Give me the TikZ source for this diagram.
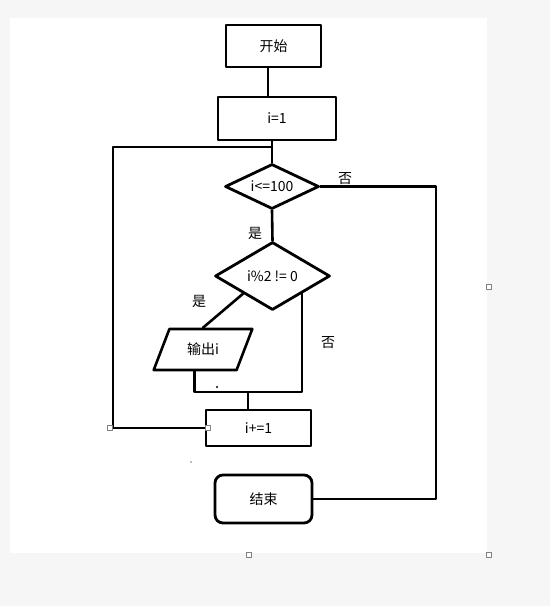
\documentclass[tikz,border=0pt]{standalone}
\usepackage{fontspec}
\setmainfont{Noto Sans CJK SC}
\usepackage{tikz}
\usetikzlibrary{calc}
\usetikzlibrary{shapes.geometric}
\definecolor{fafafa}{rgb}{0.965,0.965,0.965}
\definecolor{aaaaaa}{rgb}{0.5,0.5,0.5}
\tikzset{
  every node/.style={font=\fontsize{14}{16}\selectfont},
  procbox/.style={draw,line width=2.8pt,rectangle,inner sep=0pt},
  testbox/.style={draw,line width=2.8pt,diamond,aspect=2,inner sep=0pt},
  iobox/.style={draw,line width=2.6pt,trapezium,trapezium left angle=60,trapezium right angle=120,trapezium stretches=true,inner sep=0pt},
  endbox/.style={draw,line width=2.8pt,rectangle,rounded corners=8pt,inner sep=0pt},
  flow/.style={line width=2.6pt},
  handle/.style={draw=aaaaaa,fill=white,line width=0.6pt}
}
\begin{document}
\begin{tikzpicture}[line cap=round,line join=round,x=1.0pt,y=-1.0pt]
  \fill[fafafa] (0,0) rectangle (550,606);
  \fill[white] (10,18) rectangle (487,553);
  \useasboundingbox (0,0) rectangle (550,606);
  % boxes
  \node[procbox,minimum width=95pt,minimum height=42pt] (start) at (273.5,46) {开始};
  \node[procbox,minimum width=118pt,minimum height=43pt] (init) at (277,118.5) {i=1};
  \node[testbox,minimum width=94pt,minimum height=45pt] (cond1) at (272,186.5) {i<=100};
  \node[testbox,minimum width=115pt,minimum height=68pt] (cond2) at (272.5,276) {i\%2 != 0};
  \node[iobox,minimum width=99pt,minimum height=41pt] (out) at (203,349.5) {输出i};
  \node[procbox,minimum width=105pt,minimum height=36pt] (inc) at (258.5,428) {i+=1};
  \node[endbox,minimum width=97pt,minimum height=48pt] (end) at (263.5,499) {结束};
  % labels
  \node (yes1) at (255,233) {是};
  \node (no1) at (345,179) {否};
  \node (yes2) at (199,301) {是};
  \node (no2) at (328,343) {否};
  % connectors
  \coordinate (j1) at (272,147);
  \coordinate (lc) at (113,428);
  \coordinate (rc) at (436,499);
  \coordinate (j2) at (248,392);
  \draw[flow] (start.south -| 268,0) -- (268,0 |- init.north);
  \draw[flow] (cond1.north) -- (cond1.north |- init.south);
  \draw[flow] (inc.west) -- (lc) |- (j1);
  \draw[flow] (cond1.east) -| (rc) -- (end.east);
  \draw[flow] (cond1.south) -- (cond2.north);
  \draw[flow] (cond2.south west) -- (out.north);
  \draw[flow] ($(out.bottom left corner)!.5!(out.bottom right corner)$) |- (j2) -| (cond2.south east);
  \draw[flow] (j2) -- (j2 |- inc.north);
  % specks and handles
  \fill (217,387) circle (1.2);
  \fill[aaaaaa] (191,462) circle (0.8);
  \foreach \p in {(110,428),(208,428),(489,287),(249,555),(489,555)}
    \draw[handle] \p ++(-2.5,-2.5) rectangle ++(5,5);
\end{tikzpicture}
\end{document}
